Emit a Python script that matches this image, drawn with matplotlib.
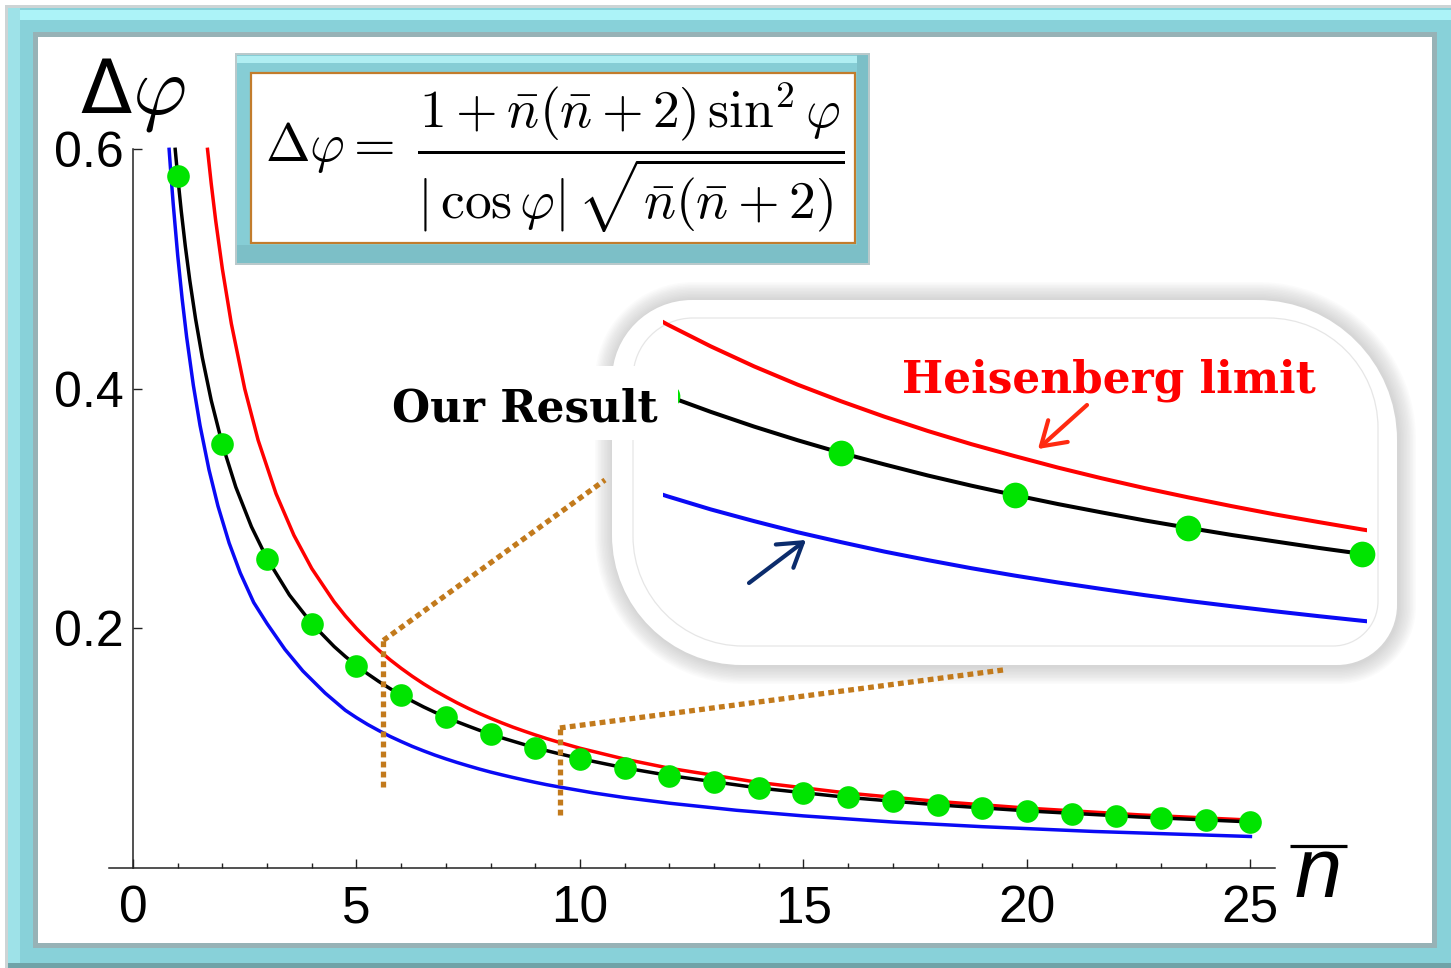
import matplotlib
matplotlib.use('Agg')
import matplotlib.pyplot as plt
from matplotlib.patches import Rectangle, PathPatch, ConnectionPatch
from matplotlib.path import Path

plt.rcParams['mathtext.fontset'] = 'cm'

W, H, DPI = 1451, 968, 100

# ---------------- data ----------------
green_n = list(range(1, 26))
green_val = [0.5774, 0.3536, 0.2582, 0.2041, 0.1690, 0.1443, 0.1260, 0.1118,
             0.1005, 0.0913, 0.0836, 0.0772, 0.0716, 0.0668, 0.0626, 0.0589,
             0.0556, 0.0527, 0.0501, 0.0477, 0.0455, 0.0435, 0.0417, 0.0400, 0.0385]

black_n = [0.944, 1.0, 1.08, 1.17, 1.27, 1.4, 1.55, 1.75, 2.0, 2.3, 2.65, 3.0, 3.5,
           4.0, 4.5, 4.75, 5.0, 5.25, 5.5, 5.75, 6.0, 6.25, 6.5, 6.75, 7.0, 7.25,
           7.5, 7.75, 8.0, 8.25, 8.5, 8.75, 9.0, 9.25, 9.5, 10, 11, 12,
           14, 16, 18, 20, 22.5, 25]
black_val = [0.600, 0.5774, 0.5483, 0.5192, 0.4907, 0.4584, 0.4263, 0.3904, 0.3536,
             0.3180, 0.2849, 0.2582, 0.2279, 0.2041, 0.1849, 0.1766, 0.1690, 0.1621,
             0.1557, 0.1498, 0.1443, 0.1393, 0.1345, 0.1301, 0.1260, 0.1221, 0.1185,
             0.1150, 0.1118, 0.1087, 0.1059, 0.1031, 0.1005, 0.0980, 0.0957, 0.0913,
             0.0836, 0.0772, 0.0668, 0.0589, 0.0527, 0.0477, 0.0426, 0.0385]

red_n = [1.667, 1.75, 1.85, 2.0, 2.2, 2.5, 2.8, 3.2, 3.6, 4.0, 4.5, 4.75, 5.0, 5.25,
         5.5, 5.75, 6.0, 6.25, 6.5, 6.75, 7.0, 7.25, 7.5, 7.75, 8.0, 8.25, 8.5, 8.75,
         9.0, 9.25, 9.5, 10, 11, 12, 14, 16, 18, 20, 22.5, 25]
red_val = [0.600, 0.5714, 0.5405, 0.5000, 0.4545, 0.4000, 0.3571, 0.3125, 0.2778,
           0.2500, 0.2222, 0.2105, 0.2000, 0.1905, 0.1818, 0.1739, 0.1667, 0.1600,
           0.1538, 0.1481, 0.1429, 0.1379, 0.1333, 0.1290, 0.1250, 0.1212, 0.1176,
           0.1143, 0.1111, 0.1081, 0.1053, 0.1000, 0.0909, 0.0833, 0.0714, 0.0625,
           0.0556, 0.0500, 0.0444, 0.0400]

blue_n = [0.808, 0.85, 0.9, 1.0, 1.1, 1.2, 1.35, 1.5, 1.7, 1.9, 2.15, 2.4, 2.7, 3.0,
          3.4, 3.8, 4.3, 4.75, 5.0, 5.25, 5.5, 5.75, 6.0, 6.25, 6.5, 6.75, 7.0, 7.25,
          7.5, 7.75, 8.0, 8.25, 8.5, 8.75, 9.0, 9.25, 9.5, 10.3, 11,
          12, 13.5, 15, 17, 19, 21.5, 25]
blue_val = [0.600, 0.5783, 0.5542, 0.5115, 0.4750, 0.4433, 0.4030, 0.3694, 0.3325,
            0.3023, 0.2714, 0.2463, 0.2217, 0.2040, 0.1825, 0.1645, 0.1460, 0.1317,
            0.1255, 0.1198, 0.1147, 0.1099, 0.1056, 0.1015, 0.0978, 0.0943, 0.0911,
            0.0881, 0.0853, 0.0826, 0.0801, 0.0778, 0.0756, 0.0735, 0.0715, 0.0696,
            0.0679, 0.0627, 0.0588, 0.0541, 0.0482, 0.0435, 0.0384, 0.0345, 0.0305,
            0.0263]

x_major = [0, 5, 10, 15, 20, 25]
x_labels = ['0', '5', '10', '15', '20', '25']
y_major = [0.2, 0.4, 0.6]
y_labels = ['0.2', '0.4', '0.6']

zoom_lo, zoom_hi = 5.6, 9.55          # magnified window (main axes)
inset_xlim = (4.975, 9.028)
inset_ylim = (0.0610, 0.2028)

C_RED, C_BLUE, C_BLACK, C_GREEN = '#FF0000', '#0A0AF5', '#000000', '#00E400'
C_DOT = '#C27A1C'
DOT_LS = (0, (1.1, 0.8))

# ---------------- figure ----------------
fig = plt.figure(figsize=(W / DPI, H / DPI), dpi=DPI)
fig.patch.set_facecolor('white')


def pix_axes(z):
    a = fig.add_axes([0, 0, 1, 1], zorder=z)
    a.set_xlim(0, W)
    a.set_ylim(H, 0)
    a.axis('off')
    a.patch.set_visible(False)
    return a


def rrect_path(x0, y0, x1, y1, tl, tr, br, bl):
    k = 0.5523
    verts, codes = [], []

    def corner(p0, c, p3):
        p1 = (p0[0] + k * (c[0] - p0[0]), p0[1] + k * (c[1] - p0[1]))
        p2 = (p3[0] + k * (c[0] - p3[0]), p3[1] + k * (c[1] - p3[1]))
        verts.extend([p1, p2, p3])
        codes.extend([Path.CURVE4] * 3)

    verts.append((x0 + tl, y0)); codes.append(Path.MOVETO)
    verts.append((x1 - tr, y0)); codes.append(Path.LINETO)
    corner((x1 - tr, y0), (x1, y0), (x1, y0 + tr))
    verts.append((x1, y1 - br)); codes.append(Path.LINETO)
    corner((x1, y1 - br), (x1, y1), (x1 - br, y1))
    verts.append((x0 + bl, y1)); codes.append(Path.LINETO)
    corner((x0 + bl, y1), (x0, y1), (x0, y1 - bl))
    verts.append((x0, y0 + tl)); codes.append(Path.LINETO)
    corner((x0, y0 + tl), (x0, y0), (x0 + tl, y0))
    verts.append((x0 + tl, y0)); codes.append(Path.CLOSEPOLY)
    return Path(verts, codes)


# ---- background frame ----
bg = pix_axes(-5)
bg.add_patch(Rectangle((5, 5), W - 5, H - 5, color='#CDD4D5', lw=0))
bg.add_patch(Rectangle((8, 8), W - 8, H - 8, color='#88D1D9', lw=0))
bg.add_patch(Rectangle((8, 10), W - 8, 10, color='#ACF3F8', lw=0))
bg.add_patch(Rectangle((8, 8), 12, H - 8, color='#9EE2E8', lw=0))
bg.add_patch(Rectangle((8, 963), W - 8, 5, color='#6FA3A8', lw=0))
bg.add_patch(Rectangle((33, 32), 1437 - 33, 948 - 32, color='#97B2B6', lw=0))
bg.add_patch(Rectangle((38, 37), 1432 - 38, 943 - 37, color='white', lw=0))

# ---- main axes ----
ax = fig.add_axes([109 / W, 1 - 868 / H, (1275 - 109) / W, (868 - 146.7) / H], zorder=0)
ax.patch.set_visible(False)
ax.set_xlim(-0.537, 25.55)
ax.set_ylim(0, 0.6022)
ax.plot(blue_n, blue_val, color=C_BLUE, lw=2.5, zorder=2)
ax.plot(red_n, red_val, color=C_RED, lw=2.5, zorder=3)
ax.plot(black_n, black_val, color=C_BLACK, lw=2.5, zorder=4)
ax.plot(green_n, green_val, 'o', color=C_GREEN, ms=16.3, mew=0, zorder=5)

for s in ('top', 'right'):
    ax.spines[s].set_visible(False)
ax.spines['left'].set_position(('data', 0))
ax.spines['left'].set_bounds(0, 0.6)
for s in ('left', 'bottom'):
    ax.spines[s].set_color('#222222')
    ax.spines[s].set_linewidth(1.1)
ax.set_xticks(x_major)
ax.set_xticklabels(x_labels)
ax.set_xticks(list(range(0, 26)), minor=True)
ax.set_yticks(y_major)
ax.set_yticklabels(y_labels)
ax.tick_params(axis='both', which='major', direction='in', length=6.5, width=1.0,
               color='#222222')
ax.tick_params(axis='x', which='minor', direction='in', length=3.3, width=1.0, color='#222222')
ax.tick_params(axis='x', which='major', pad=12, labelsize=37)
ax.tick_params(axis='y', which='major', pad=7, labelsize=36)
for lab in ax.get_xticklabels() + ax.get_yticklabels():
    lab.set_fontfamily('Liberation Sans')

# dotted markers of the magnified window
ax.plot([zoom_lo, zoom_lo], [0.0676, 0.190], color=C_DOT, lw=3.8,
        ls=DOT_LS, dash_capstyle='butt', zorder=6)
ax.plot([zoom_hi, zoom_hi], [0.0442, 0.1169], color=C_DOT, lw=3.8,
        ls=DOT_LS, dash_capstyle='butt', zorder=6)

# ---- inset background shape ----
ov1 = pix_axes(1)
for i in range(12, 0, -1):
    g = i * 1.5
    p = rrect_path(612 - g + 1, 300 - g, 1397 + g + 1, 665 + g + 1,
                   80 + g, 140 + g, 60 + g, 130 + g)
    ov1.add_patch(PathPatch(p, facecolor='#808080', edgecolor='none', alpha=0.028))
ov1.add_patch(PathPatch(rrect_path(612, 300, 1397, 665, 80, 140, 60, 130),
                        facecolor='white', edgecolor='none'))
ov1.add_patch(PathPatch(rrect_path(633, 318, 1378, 646, 60, 110, 45, 110),
                        facecolor='none', edgecolor='#E6E6E6', lw=0.9))

# ---- inset axes ----
ins = fig.add_axes([663 / W, 1 - 645 / H, (1367 - 663) / W, (645 - 318) / H], zorder=2)
ins.patch.set_visible(False)
ins.axis('off')
ins.set_xlim(*inset_xlim)
ins.set_ylim(*inset_ylim)
ins.plot(blue_n, blue_val, color=C_BLUE, lw=2.9)
ins.plot(red_n, red_val, color=C_RED, lw=2.9)
ins.plot(black_n, black_val, color=C_BLACK, lw=2.9)
sel = [(n, v) for n, v in zip(green_n, green_val) if inset_xlim[0] - 0.1 <= n <= inset_xlim[1] + 0.1]
ins.plot([s[0] for s in sel], [s[1] for s in sel], 'o', color=C_GREEN, ms=18.5,
         mew=0, clip_on=False, zorder=5)

# ---- top overlay ----
ov = pix_axes(3)

# connectors from magnified window to the inset
for xyA, xyB in (((zoom_lo, 0.190), (605, 480)), ((zoom_hi, 0.1169), (1003, 670))):
    cp = ConnectionPatch(xyA=xyA, coordsA=ax.transData, xyB=xyB, coordsB=ov.transData,
                         color=C_DOT, lw=3.8, ls=DOT_LS, capstyle='butt')
    ov.add_artist(cp)

# "Our Result" label box
ov.add_patch(Rectangle((362, 366), 678 - 362, 74, color='white', lw=0))
ov.text(392, 422, 'Our Result', fontfamily='DejaVu Serif', fontweight='bold',
        fontsize=31.5, color='black', ha='left', va='baseline')
ov.text(902, 392, 'Heisenberg limit', fontfamily='DejaVu Serif', fontweight='bold',
        fontsize=31.5, color='#FF0000', ha='left', va='baseline')

ov.annotate('', xy=(1038, 449), xytext=(1087, 405),
            arrowprops=dict(arrowstyle='->,head_length=0.55,head_width=0.35',
                            color='#FF2A10', lw=3.0, mutation_scale=30,
                            shrinkA=0, shrinkB=0))
ov.annotate('', xy=(806, 540), xytext=(749, 583),
            arrowprops=dict(arrowstyle='->,head_length=0.55,head_width=0.35',
                            color='#0B2C6C', lw=3.0, mutation_scale=30,
                            shrinkA=0, shrinkB=0))

# formula box
ov.add_patch(Rectangle((235, 53), 635, 212, color='#B9C9CB', lw=0))
ov.add_patch(Rectangle((237, 55), 631, 208, color='#86CDD5', lw=0))
ov.add_patch(Rectangle((237, 56), 631, 7, color='#B0EEF2', lw=0))
ov.add_patch(Rectangle((237, 245), 631, 18, color='#7CBFC7', lw=0))
ov.add_patch(Rectangle((857, 55), 11, 208, color='#7CBFC7', lw=0))
ov.add_patch(Rectangle((251, 73), 855 - 251, 243 - 73, facecolor='white',
                       edgecolor='#C27C2C', lw=1.6))
formula = (r'$\Delta\varphi = \;\dfrac{1+\bar{n}(\bar{n}+2)\,\sin^2\varphi}'
           r'{|\,\cos\varphi|\,\sqrt{\bar{n}(\bar{n}+2)}}$')
ov.text(555, 158, formula, fontsize=38.5, ha='center', va='center', color='black')

# axis labels
ov.text(80, 113, '\u0394', fontfamily='DejaVu Sans', fontsize=54, ha='left',
        va='baseline', color='black')
ov.text(132, 113, r'$\varphi$', fontsize=60, ha='left', va='baseline', color='black')
ov.text(1295, 897, 'n', fontfamily='Liberation Sans', fontstyle='italic', fontsize=61,
        ha='left', va='baseline', color='black')
ov.plot([1290, 1347], [846, 846], color='black', lw=2.3, solid_capstyle='butt')

fig.savefig('out.png', dpi=DPI)
